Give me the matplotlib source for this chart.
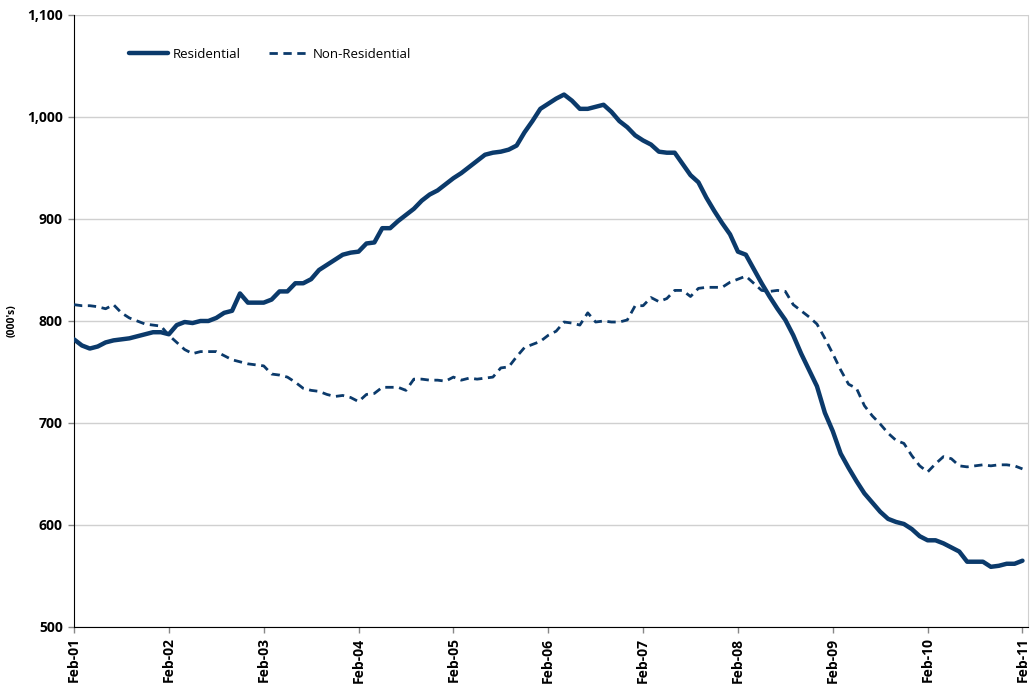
import matplotlib
matplotlib.use("Agg")
import matplotlib.pyplot as plt
import numpy as np

plt.rcParams['font.family'] = ['Open Sans', 'DejaVu Sans']

years = ["01", "02", "03", "04", "05", "06", "07", "08", "09", "10", "11"]
tick_labels = ["Feb-" + y for y in years]

residential = [
    782, 776, 773, 775, 779, 781, 782, 783, 785, 787,
    789, 789, 787, 796, 799, 798, 800, 800, 803, 808,
    810, 827, 818, 818, 818, 821, 829, 829, 837, 837,
    841, 850, 855, 860, 865, 867, 868, 876, 877, 891,
    891, 898, 904, 910, 918, 924, 928, 934, 940, 945,
    951, 957, 963, 965, 966, 968, 972, 985, 996, 1008,
    1013, 1018, 1022, 1016, 1008, 1008, 1010, 1012, 1005, 996,
    990, 982, 977, 973, 966, 965, 965, 954, 943, 936,
    921, 908, 896, 885, 868, 865, 851, 837, 824, 812,
    801, 786, 768, 752, 736, 710, 692, 670, 656, 643,
    631, 622, 613, 606, 603, 601, 596, 589, 585, 585,
    582, 578, 574, 564, 564, 564, 559, 560, 562, 562,
    565,
]

non_residential = [
    816, 815, 815, 814, 812, 816, 808, 803, 800, 797,
    796, 795, 786, 779, 772, 768, 770, 770, 770, 766,
    762, 760, 758, 757, 756, 748, 747, 745, 740, 734,
    732, 731, 728, 726, 727, 725, 721, 728, 729, 735,
    735, 735, 732, 743, 743, 742, 742, 741, 745, 742,
    744, 743, 744, 745, 754, 755, 765, 774, 777, 780,
    786, 790, 799, 798, 796, 808, 799, 800, 799, 799,
    801, 815, 815, 823, 819, 822, 830, 830, 824, 832,
    833, 833, 833, 838, 841, 844, 837, 830, 829, 830,
    829, 816, 810, 804, 797, 783, 768, 752, 738, 734,
    717, 707, 699, 690, 683, 680, 668, 658, 652, 660,
    667, 665, 658, 657, 658, 659, 658, 659, 659, 658,
    655,
]

color = '#0B3A6B'

fig = plt.figure(figsize=(10.33, 6.92), dpi=100)
ax = fig.add_axes([74/1033, 1 - 627/692, (1028-74)/1033, (627-15)/692])

x = np.arange(len(residential))
ax.plot(x, residential, color=color, lw=3.2, solid_capstyle='round',
        solid_joinstyle='round', label='Residential', zorder=3)
ax.plot(x, non_residential, color=color, lw=2.0, linestyle=(0, (3, 2)),
        label='Non-Residential', zorder=3)

ax.set_xlim(0, 120.7)
ax.set_ylim(500, 1100)
ax.set_yticks(range(500, 1101, 100))
ax.set_yticklabels([f"{v:,}" for v in range(500, 1101, 100)],
                   fontsize=10, fontweight='bold')
ax.set_xticks(np.arange(0, 121, 12))
ax.set_xticklabels(tick_labels, rotation=90, fontsize=10, fontweight='bold')

ax.grid(axis='y', color='#d0d0d0', lw=1.0)
ax.set_axisbelow(True)
ax.spines['top'].set_visible(False)
ax.spines['right'].set_color('#d0d0d0')
ax.spines['left'].set_color('black')
ax.spines['bottom'].set_color('black')
ax.tick_params(axis='both', direction='out', length=4, width=1, color='#888888')
ax.tick_params(axis='y', pad=4)

ax.set_ylabel("(000's)", fontsize=7.5, fontweight='bold')
ax.yaxis.set_label_coords(-0.059, 0.5)

ax.legend(loc='center left', bbox_to_anchor=(0.045, 0.936), ncol=2,
          frameon=False, fontsize=9.5, handlelength=3.0,
          columnspacing=2.2, handletextpad=0.3)

fig.savefig("out.png", dpi=100, facecolor='white')
